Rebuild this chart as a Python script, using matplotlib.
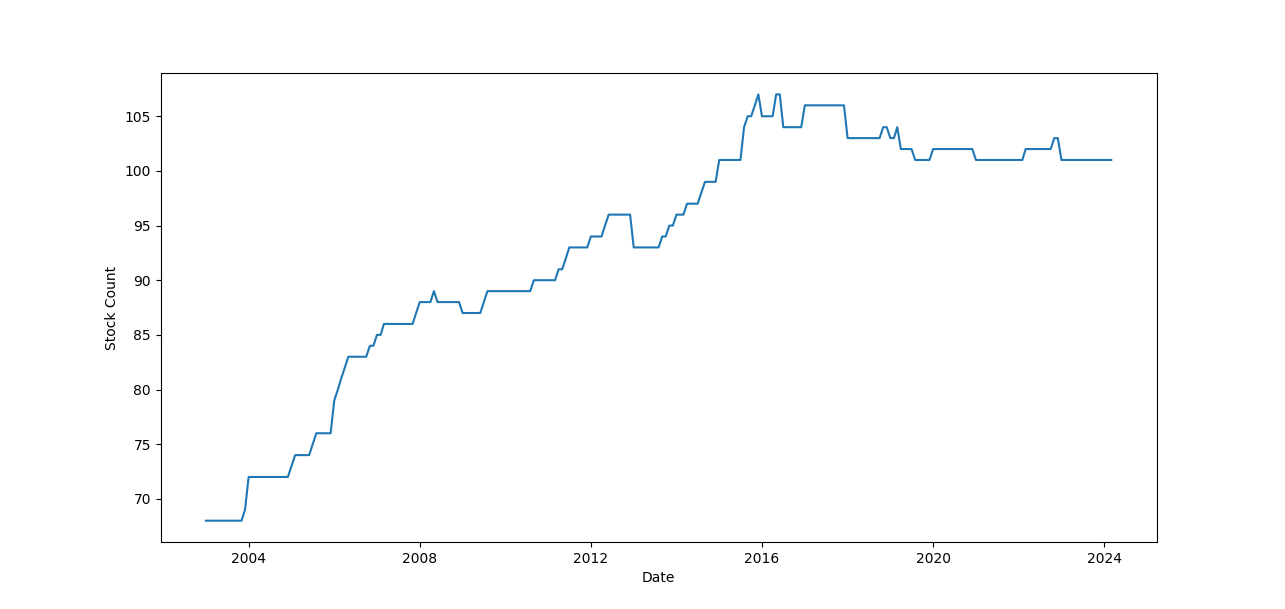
import pandas as pd
import matplotlib.pyplot as plt

# months where the stock count changed, and the new count from that month on
change_months = [
    "2003-01", "2003-12", "2004-01", "2005-01", "2005-02", "2005-07", "2005-08",
    "2006-01", "2006-02", "2006-03", "2006-04", "2006-05", "2006-11", "2007-01",
    "2007-03", "2007-12", "2008-01", "2008-05", "2008-06", "2009-01", "2009-07",
    "2009-08", "2010-09", "2011-04", "2011-06", "2011-07", "2012-01", "2012-05",
    "2012-06", "2013-01", "2013-09", "2013-11", "2014-01", "2014-04", "2014-08",
    "2014-09", "2015-01", "2015-08", "2015-09", "2015-11", "2015-12", "2016-01",
    "2016-05", "2016-07", "2017-01", "2018-01", "2018-11", "2019-01", "2019-03",
    "2019-04", "2019-08", "2020-01", "2021-01", "2022-03", "2022-11", "2023-01",
]
change_counts = [
    68, 69, 72, 73, 74, 75, 76,
    79, 80, 81, 82, 83, 84, 85,
    86, 87, 88, 89, 88, 87, 88,
    89, 90, 91, 92, 93, 94, 95,
    96, 93, 94, 95, 96, 97, 98,
    99, 101, 104, 105, 106, 107, 105,
    107, 104, 106, 103, 104, 103, 104,
    102, 101, 102, 101, 102, 103, 101,
]
first_month = "2003-01"
last_month = "2024-03"


def load_data():
    """Monthly stock count, carried forward between changes"""
    months = pd.date_range(first_month, last_month, freq="MS")
    changes = pd.Series(change_counts, index=pd.to_datetime(change_months))
    return changes.reindex(months).ffill()


counts = load_data()

plt.figure(figsize=(12.85, 6.09), dpi=100)
plt.plot(counts.index, counts.values)
plt.xlabel("Date")
plt.ylabel("Stock Count")
plt.savefig("out.png")
plt.close()
